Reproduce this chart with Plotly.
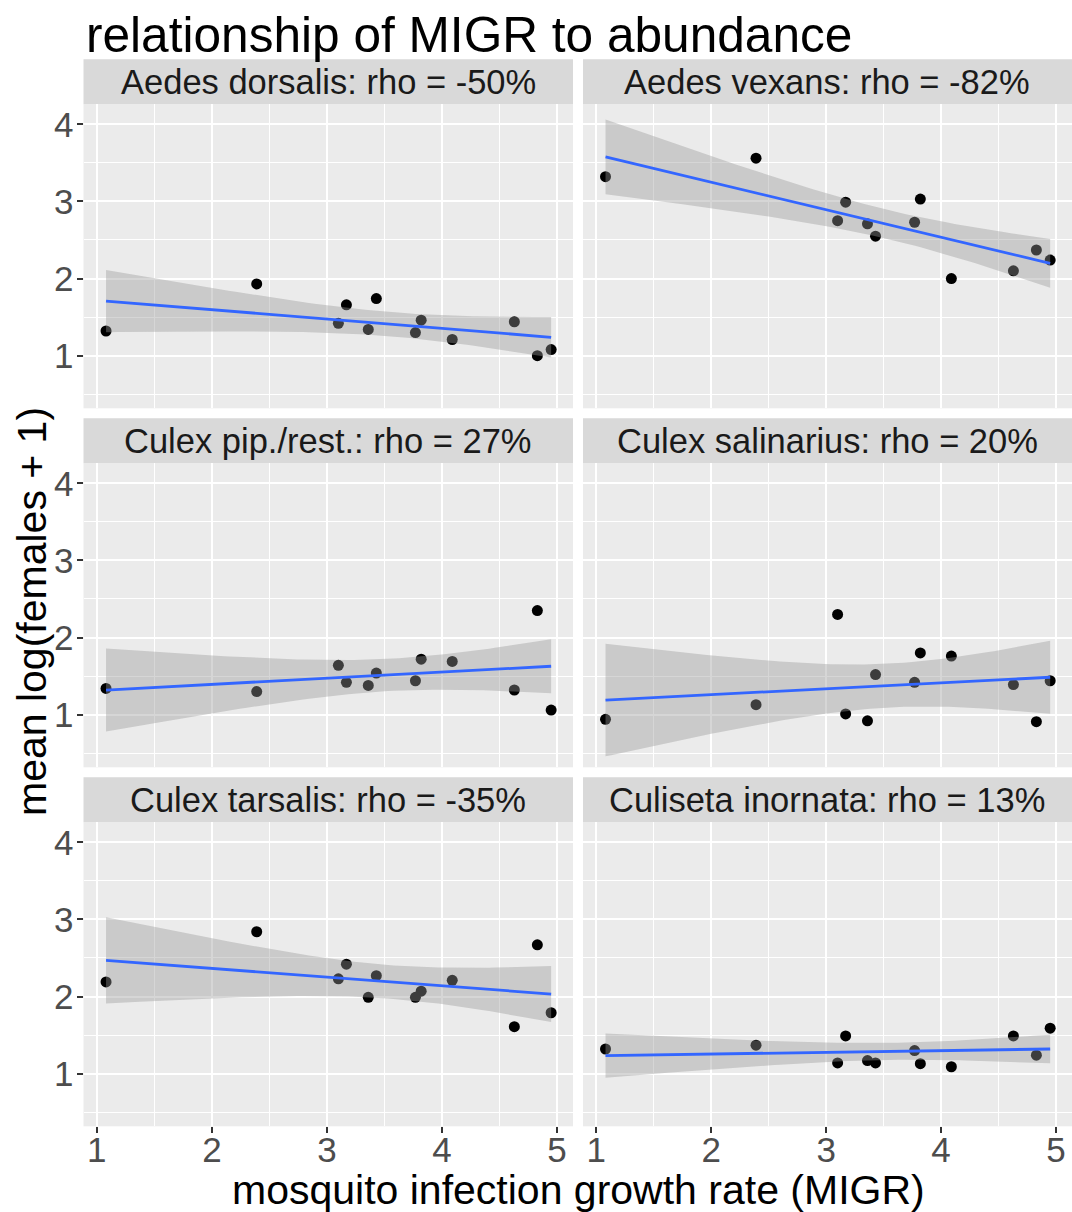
import numpy as np
import plotly.graph_objects as go

# ---------------- data ----------------
species = ["Aedes dorsalis", "Aedes vexans", "Culex pip./rest.",
           "Culex salinarius", "Culex tarsalis", "Culiseta inornata"]
rho_labels = ["-50%", "-82%", "27%", "20%", "-35%", "13%"]

migr = [1.08, 2.39, 3.10, 3.17, 3.36, 3.43, 3.77, 3.82, 4.09, 4.63, 4.83, 4.95]

abund_aedes_dorsalis = [1.32, 1.93, 1.42, 1.66, 1.34, 1.74, 1.30, 1.46, 1.21, 1.44, 1.00, 1.08]
abund_aedes_vexans = [3.32, 3.56, 2.75, 2.99, 2.71, 2.55, 2.73, 3.03, 2.00, 2.10, 2.37, 2.24]
abund_culex_pip = [1.34, 1.30, 1.64, 1.42, 1.38, 1.54, 1.44, 1.72, 1.69, 1.32, 2.35, 1.06]
abund_culex_salinarius = [0.94, 1.13, 2.30, 1.01, 0.92, 1.52, 1.42, 1.80, 1.76, 1.39, 0.91, 1.44]
abund_culex_tarsalis = [2.19, 2.84, 2.23, 2.42, 1.99, 2.27, 1.99, 2.07, 2.21, 1.61, 2.67, 1.79]
abund_culiseta = [1.32, 1.37, 1.14, 1.49, 1.17, 1.14, 1.30, 1.13, 1.09, 1.49, 1.24, 1.59]

series = [abund_aedes_dorsalis, abund_aedes_vexans, abund_culex_pip,
          abund_culex_salinarius, abund_culex_tarsalis, abund_culiseta]

x_ticks = [1, 2, 3, 4, 5]
y_ticks = [1, 2, 3, 4]

# ---------------- layout geometry (pixels) ----------------
W, H = 1072, 1212
FONT = "Liberation Sans, Arial, sans-serif"
cols = [(83.5, 573.0), (583.0, 1072.0)]
strip_tops = [59.3, 418.3, 777.3]
STRIP_H = 45.0
PANEL_H = 304.0
TICK_FONT = 35


def px(x):
    return x / W


def py(y):
    return 1 - y / H


fig = go.Figure()
annotations = []
shapes = []
T_CRIT = 2.228  # t(0.975, df=10)

for i, (name, rho, yvals) in enumerate(zip(species, rho_labels, series)):
    r, c = divmod(i, 2)
    ax = "" if i == 0 else str(i + 1)
    xref, yref = "x" + ax, "y" + ax
    x = np.array(migr, dtype=float)
    y = np.array(yvals, dtype=float)

    # points (drawn first, ribbon overlays them like ggplot)
    fig.add_trace(go.Scatter(x=x, y=y, mode="markers", xaxis=xref, yaxis=yref,
                             marker=dict(color="black", size=11), showlegend=False,
                             hoverinfo="skip"))
    # linear fit with 95% CI
    n = len(x)
    b1, b0 = np.polyfit(x, y, 1)
    resid = y - (b0 + b1 * x)
    s = np.sqrt(np.sum(resid ** 2) / (n - 2))
    xbar = x.mean()
    sxx = np.sum((x - xbar) ** 2)
    xg = np.linspace(x.min(), x.max(), 80)
    yg = b0 + b1 * xg
    se = s * np.sqrt(1 / n + (xg - xbar) ** 2 / sxx)
    up, lo = yg + T_CRIT * se, yg - T_CRIT * se
    fig.add_trace(go.Scatter(x=np.concatenate([xg, xg[::-1]]),
                             y=np.concatenate([up, lo[::-1]]),
                             mode="lines", fill="toself", xaxis=xref, yaxis=yref,
                             fillcolor="rgba(153,153,153,0.4)", line=dict(width=0),
                             showlegend=False, hoverinfo="skip"))
    fig.add_trace(go.Scatter(x=xg, y=yg, mode="lines", xaxis=xref, yaxis=yref,
                             line=dict(color="#3366FF", width=2.8), showlegend=False,
                             hoverinfo="skip"))

    x0, x1 = cols[c]
    st = strip_tops[r]
    p_top = st + STRIP_H
    p_bot = p_top + PANEL_H

    xaxis = dict(domain=[px(x0), px(x1)], range=[0.884, 5.14], anchor=yref,
                 tickvals=x_ticks, showgrid=True, gridcolor="white", gridwidth=2,
                 minor=dict(dtick=0.5, tick0=0, showgrid=True, gridcolor="white",
                            gridwidth=1, ticks=""),
                 zeroline=False, showline=False,
                 tickfont=dict(family=FONT, size=TICK_FONT, color="#4D4D4D"))
    yaxis = dict(domain=[py(p_bot), py(p_top)], range=[0.318, 4.259], anchor=xref,
                 tickvals=y_ticks, showgrid=True, gridcolor="white", gridwidth=2,
                 minor=dict(dtick=0.5, tick0=0, showgrid=True, gridcolor="white",
                            gridwidth=1, ticks=""),
                 zeroline=False, showline=False,
                 tickfont=dict(family=FONT, size=TICK_FONT, color="#4D4D4D"))
    if r == 2:
        xaxis.update(ticks="outside", ticklen=6, tickwidth=1.5, tickcolor="#333333",
                     showticklabels=True, ticklabelstandoff=-13)
    else:
        xaxis.update(ticks="", showticklabels=False)
    if c == 0:
        yaxis.update(ticks="outside", ticklen=6, tickwidth=1.5, tickcolor="#333333",
                     showticklabels=True, ticklabelstandoff=-4)
    else:
        yaxis.update(ticks="", showticklabels=False)
    fig.layout["xaxis" + ax] = xaxis
    fig.layout["yaxis" + ax] = yaxis

    # strip
    shapes.append(dict(type="rect", xref="paper", yref="paper",
                       x0=px(x0), x1=px(x1), y0=py(p_top), y1=py(st),
                       fillcolor="#D9D9D9", line=dict(width=0), layer="below"))
    annotations.append(dict(xref="paper", yref="paper", x=px((x0 + x1) / 2),
                            y=py(st + STRIP_H / 2), xanchor="center", yanchor="middle",
                            text=f"{name}: rho = {rho}", showarrow=False,
                            font=dict(family=FONT, size=34.5, color="#1A1A1A")))

# titles
annotations.append(dict(xref="paper", yref="paper", x=px(83.5), y=py(35),
                        xanchor="left", yanchor="middle",
                        text="relationship of MIGR to abundance", showarrow=False,
                        font=dict(family=FONT, size=49.6, color="black")))
annotations.append(dict(xref="paper", yref="paper", x=px(578), y=py(1190),
                        xanchor="center", yanchor="middle",
                        text="mosquito infection growth rate (MIGR)", showarrow=False,
                        font=dict(family=FONT, size=41, color="black")))
annotations.append(dict(xref="paper", yref="paper", x=px(32), y=py(612),
                        xanchor="center", yanchor="middle", textangle=-90,
                        text="mean log(females + 1)", showarrow=False,
                        font=dict(family=FONT, size=41, color="black")))

fig.update_layout(width=W, height=H, autosize=False,
                  margin=dict(l=0, r=0, t=0, b=0, pad=0),
                  paper_bgcolor="white", plot_bgcolor="#EBEBEB",
                  annotations=annotations, shapes=shapes,
                  font=dict(family=FONT))

fig.write_html("out.html", config={"displayModeBar": False},
               post_script="document.body.style.margin='0';document.body.style.padding='0';")
